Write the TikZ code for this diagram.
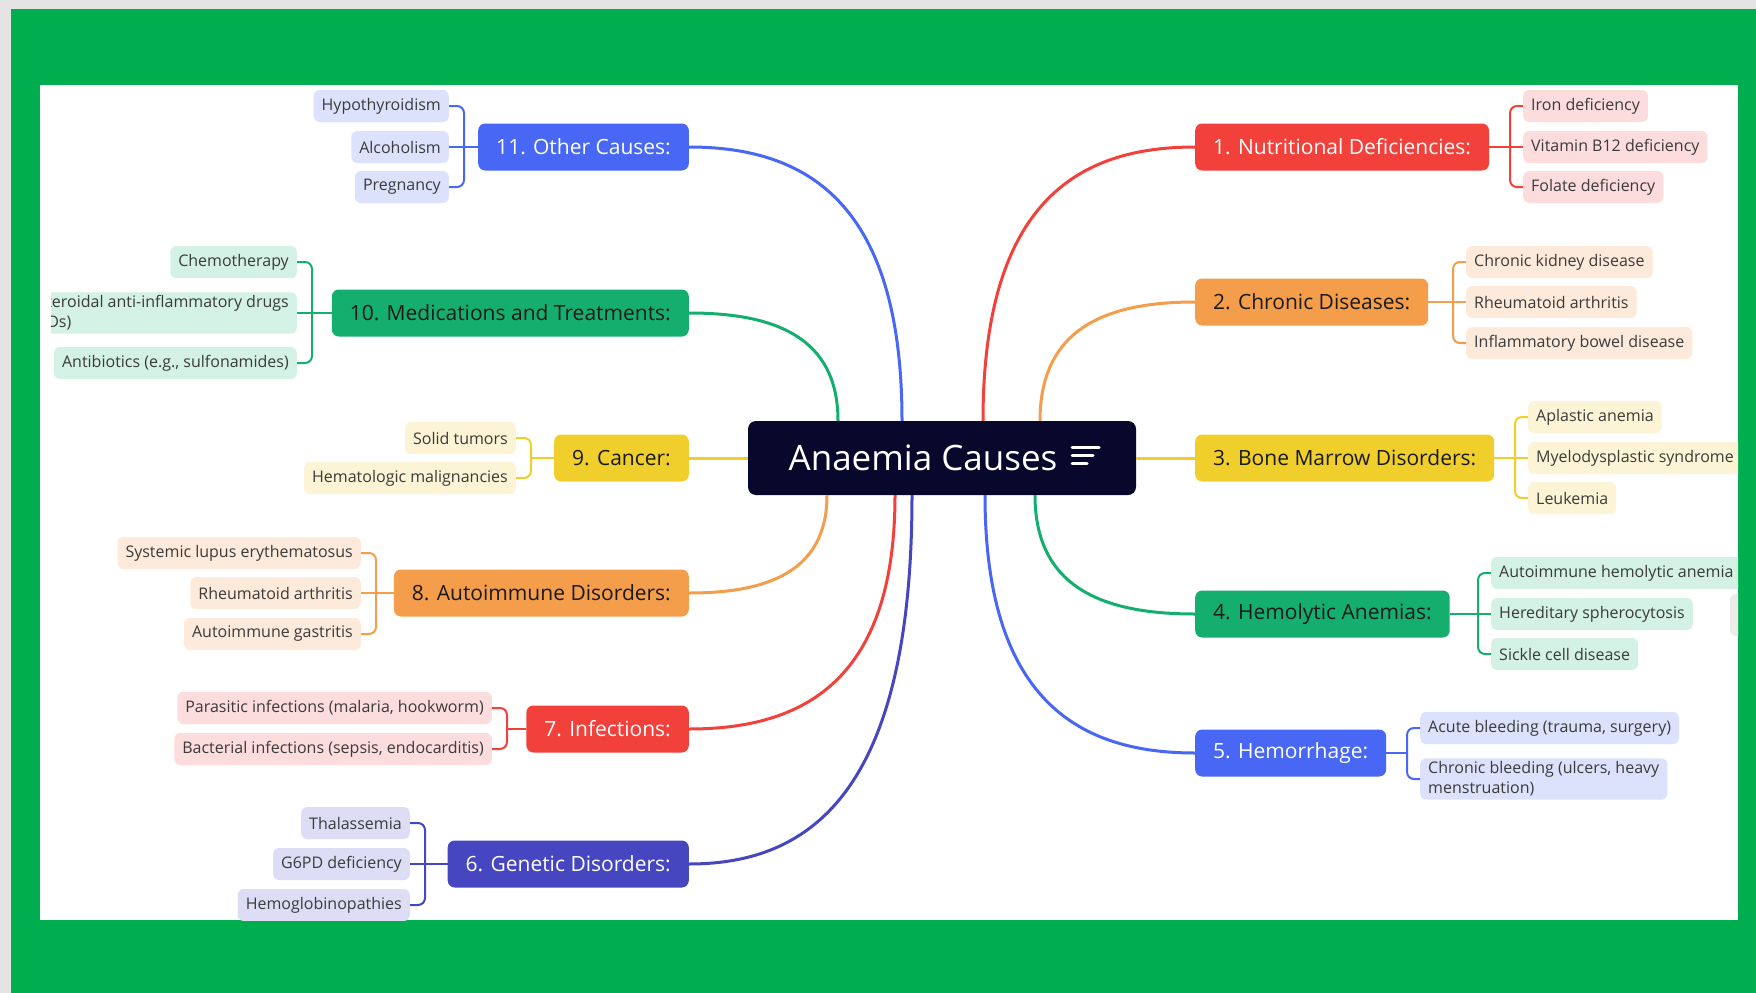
\documentclass[tikz,border=0pt]{standalone}
\usepackage{fontspec}
\setmainfont{Open Sans}
\usetikzlibrary{calc}

\definecolor{bggreen}{HTML}{00AE4F}
\definecolor{bggray}{HTML}{E4E4E4}
\definecolor{rootblue}{HTML}{08082C}
\definecolor{cred}{HTML}{F2413B}
\definecolor{corange}{HTML}{F49D4A}
\definecolor{cyellow}{HTML}{F0CF2C}
\definecolor{cgreen}{HTML}{14AE6E}
\definecolor{cblue}{HTML}{4767F4}
\definecolor{cindigo}{HTML}{4646C0}
\definecolor{lred}{HTML}{FCDCDC}
\definecolor{lorange}{HTML}{FDEADB}
\definecolor{lyellow}{HTML}{FCF4D4}
\definecolor{lgreen}{HTML}{D3F1E4}
\definecolor{lblue}{HTML}{DCE2FC}
\definecolor{lindigo}{HTML}{DEDDF6}
\definecolor{leaftext}{HTML}{3B3B3B}
\definecolor{darktext}{HTML}{1A1A1A}

\tikzset{
  root/.style={fill=rootblue, text=white, rounded corners=8pt, minimum width=388pt,
    minimum height=74pt, font=\fontsize{35}{40}\selectfont},
  branch/.style 2 args={fill=#1, text=#2, rounded corners=7pt, minimum height=47pt,
    inner xsep=18pt, font=\fontsize{21}{25}\selectfont},
  leaf/.style={fill=#1, text=leaftext, rounded corners=6pt, minimum height=32pt,
    inner xsep=8pt, align=left, font=\fontsize{16}{20}\selectfont},
  limb/.style={draw=#1, line width=3pt},
  twig/.style={draw=#1, line width=2pt, rounded corners=7pt},
}

\begin{document}
\begin{tikzpicture}[x=1pt,y=-1pt]
    \useasboundingbox (0,0) rectangle (1756,993);
    \fill[bggray] (0,0) rectangle (1756,993);
    \fill[bggreen] (11,9) rectangle (1756,993);
    \fill[white] (40,85) rectangle (1738,920);
    \begin{scope}
    \clip (51,85) rectangle (1738,920);
    % centre
    \node[root] (root) at (942,458) {Anaemia Causes\kern38pt};
    \draw[white,line width=3pt,line cap=round] ($(root.east)+(-64,-11)$) -- ++(27,0);
    \draw[white,line width=3pt,line cap=round] ($(root.east)+(-64,-3)$) -- ++(21,0);
    \draw[white,line width=3pt,line cap=round] ($(root.east)+(-64,5)$) -- ++(15,0);
    % right branches
    \node[branch={cred}{white},anchor=west] (n1) at (1195,147) {1. Nutritional Deficiencies:};
    \node[branch={corange}{darktext},anchor=west] (n2) at (1195,302) {2. Chronic Diseases:};
    \node[branch={cyellow}{darktext},anchor=west] (n3) at (1195,458) {3. Bone Marrow Disorders:};
    \node[branch={cgreen}{darktext},anchor=west] (n4) at (1195,614) {4. Hemolytic Anemias:};
    \node[branch={cblue}{white},anchor=west] (n5) at (1195,753) {5. Hemorrhage:};
    % left branches
    \node[branch={cindigo}{white},anchor=east] (n6) at (689,864) {6. Genetic Disorders:};
    \node[branch={cred}{white},anchor=east] (n7) at (689,729) {7. Infections:};
    \node[branch={corange}{darktext},anchor=east] (n8) at (689,593) {8. Autoimmune Disorders:};
    \node[branch={cyellow}{darktext},anchor=east] (n9) at (689,458) {9. Cancer:};
    \node[branch={cgreen}{darktext},anchor=east] (n10) at (689,313) {10. Medications and Treatments:};
    \node[branch={cblue}{white},anchor=east] (n11) at (689,147) {11. Other Causes:};
    % leaves, right
    \node[leaf=lred,anchor=west] (n1a) at (1523,106) {Iron deficiency};
    \node[leaf=lred,anchor=west] (n1b) at (1523,147) {Vitamin B12 deficiency};
    \node[leaf=lred,anchor=west] (n1c) at (1523,187) {Folate deficiency};
    \node[leaf=lorange,anchor=west] (n2a) at (1466,262) {Chronic kidney disease};
    \node[leaf=lorange,anchor=west] (n2b) at (1466,302) {Rheumatoid arthritis};
    \node[leaf=lorange,anchor=west] (n2c) at (1466,343) {Inflammatory bowel disease};
    \node[leaf=lyellow,anchor=west] (n3a) at (1528,417) {Aplastic anemia};
    \node[leaf=lyellow,anchor=west] (n3b) at (1528,458) {Myelodysplastic syndrome};
    \node[leaf=lyellow,anchor=west] (n3c) at (1528,498) {Leukemia};
    \node[leaf=lgreen,anchor=west] (n4a) at (1491,573) {Autoimmune hemolytic anemia};
    \node[leaf=lgreen,anchor=west] (n4b) at (1491,614) {Hereditary spherocytosis};
    \node[leaf=lgreen,anchor=west] (n4c) at (1491,654) {Sickle cell disease};
    \node[leaf=lblue,anchor=west] (n5a) at (1420,728) {Acute bleeding (trauma, surgery)};
    \node[leaf=lblue,anchor=west] (n5b) at (1420,779) {Chronic bleeding (ulcers, heavy\\menstruation)};
    \fill[bggray!70,rounded corners=6pt] (1730,594) rectangle (1780,636);
    % leaves, left
    \node[leaf=lindigo,anchor=east] (n6a) at (410,823) {Thalassemia};
    \node[leaf=lindigo,anchor=east] (n6b) at (410,864) {G6PD deficiency};
    \node[leaf=lindigo,anchor=east] (n6c) at (410,905) {Hemoglobinopathies};
    \node[leaf=lred,anchor=east] (n7a) at (492,708) {Parasitic infections (malaria, hookworm)};
    \node[leaf=lred,anchor=east] (n7b) at (492,749) {Bacterial infections (sepsis, endocarditis)};
    \node[leaf=lorange,anchor=east] (n8a) at (361,553) {Systemic lupus erythematosus};
    \node[leaf=lorange,anchor=east] (n8b) at (361,593) {Rheumatoid arthritis};
    \node[leaf=lorange,anchor=east] (n8c) at (361,634) {Autoimmune gastritis};
    \node[leaf=lyellow,anchor=east] (n9a) at (516,438) {Solid tumors};
    \node[leaf=lyellow,anchor=east] (n9b) at (516,478) {Hematologic malignancies};
    \node[leaf=lgreen,anchor=east] (n10a) at (297,262) {Chemotherapy};
    \node[leaf=lgreen,anchor=east] (n10b) at (297,313) {Nonsteroidal anti-inflammatory drugs\\(NSAIDs)};
    \node[leaf=lgreen,anchor=east] (n10c) at (297,363) {Antibiotics (e.g., sulfonamides)};
    \node[leaf=lblue,anchor=east] (n11a) at (449,106) {Hypothyroidism};
    \node[leaf=lblue,anchor=east] (n11b) at (449,147) {Alcoholism};
    \node[leaf=lblue,anchor=east] (n11c) at (449,187) {Pregnancy};
    % limbs from the centre
    \draw[limb=cred] ([xshift=41pt]root.north) .. controls +(0,-219) and +(-117,0) .. (n1.west);
    \draw[limb=corange] ([xshift=98pt]root.north) .. controls +(0,-95) and +(-85,0) .. (n2.west);
    \draw[limb=cyellow] (root.east) -- (n3.west);
    \draw[limb=cgreen] ([xshift=93pt]root.south) .. controls +(0,95) and +(-88,0) .. (n4.west);
    \draw[limb=cblue] ([xshift=43pt]root.south) .. controls +(0,206) and +(-115,0) .. (n5.west);
    \draw[limb=cindigo] ([xshift=-30pt]root.south) .. controls +(0,295) and +(123,0) .. (n6.east);
    \draw[limb=cred] ([xshift=-47pt]root.south) .. controls +(0,187) and +(113,0) .. (n7.east);
    \draw[limb=corange] ([xshift=-115pt]root.south) .. controls +(0,78) and +(76,0) .. (n8.east);
    \draw[limb=cyellow] (root.west) -- (n9.east);
    \draw[limb=cgreen] ([xshift=-104pt]root.north) .. controls +(0,-86) and +(82,0) .. (n10.east);
    \draw[limb=cblue] ([xshift=-40pt]root.north) .. controls +(0,-219) and +(117,0) .. (n11.east);
    % twigs to the leaves
    \draw[twig=cred] (n1.east) -- (n1b.west);
    \draw[twig=cred] (n1a.west) -- ++(-13,0) |- (n1c.west);
    \draw[twig=corange] (n2.east) -- (n2b.west);
    \draw[twig=corange] (n2a.west) -- ++(-13,0) |- (n2c.west);
    \draw[twig=cyellow] (n3.east) -- (n3b.west);
    \draw[twig=cyellow] (n3a.west) -- ++(-13,0) |- (n3c.west);
    \draw[twig=cgreen] (n4.east) -- (n4b.west);
    \draw[twig=cgreen] (n4a.west) -- ++(-13,0) |- (n4c.west);
    \draw[twig=cblue] (n5.east) -- ($(n5a.west |- n5.east)+(-13,0)$);
    \draw[twig=cblue] (n5a.west) -- ++(-13,0) |- (n5b.west);
    \draw[twig=cindigo] (n6.west) -- (n6b.east);
    \draw[twig=cindigo] (n6a.east) -- ++(15,0) |- (n6c.east);
    \draw[twig=cred] (n7.west) -- ($(n7a.east |- n7.west)+(15,0)$);
    \draw[twig=cred] (n7a.east) -- ++(15,0) |- (n7b.east);
    \draw[twig=corange] (n8.west) -- (n8b.east);
    \draw[twig=corange] (n8a.east) -- ++(15,0) |- (n8c.east);
    \draw[twig=cyellow] (n9.west) -- ($(n9a.east |- n9.west)+(15,0)$);
    \draw[twig=cyellow] (n9a.east) -- ++(15,0) |- (n9b.east);
    \draw[twig=cgreen] (n10.west) -- (n10b.east);
    \draw[twig=cgreen] (n10a.east) -- ++(15,0) |- (n10c.east);
    \draw[twig=cblue] (n11.west) -- (n11b.east);
    \draw[twig=cblue] (n11a.east) -- ++(15,0) |- (n11c.east);
    \end{scope}
\end{tikzpicture}
\end{document}
